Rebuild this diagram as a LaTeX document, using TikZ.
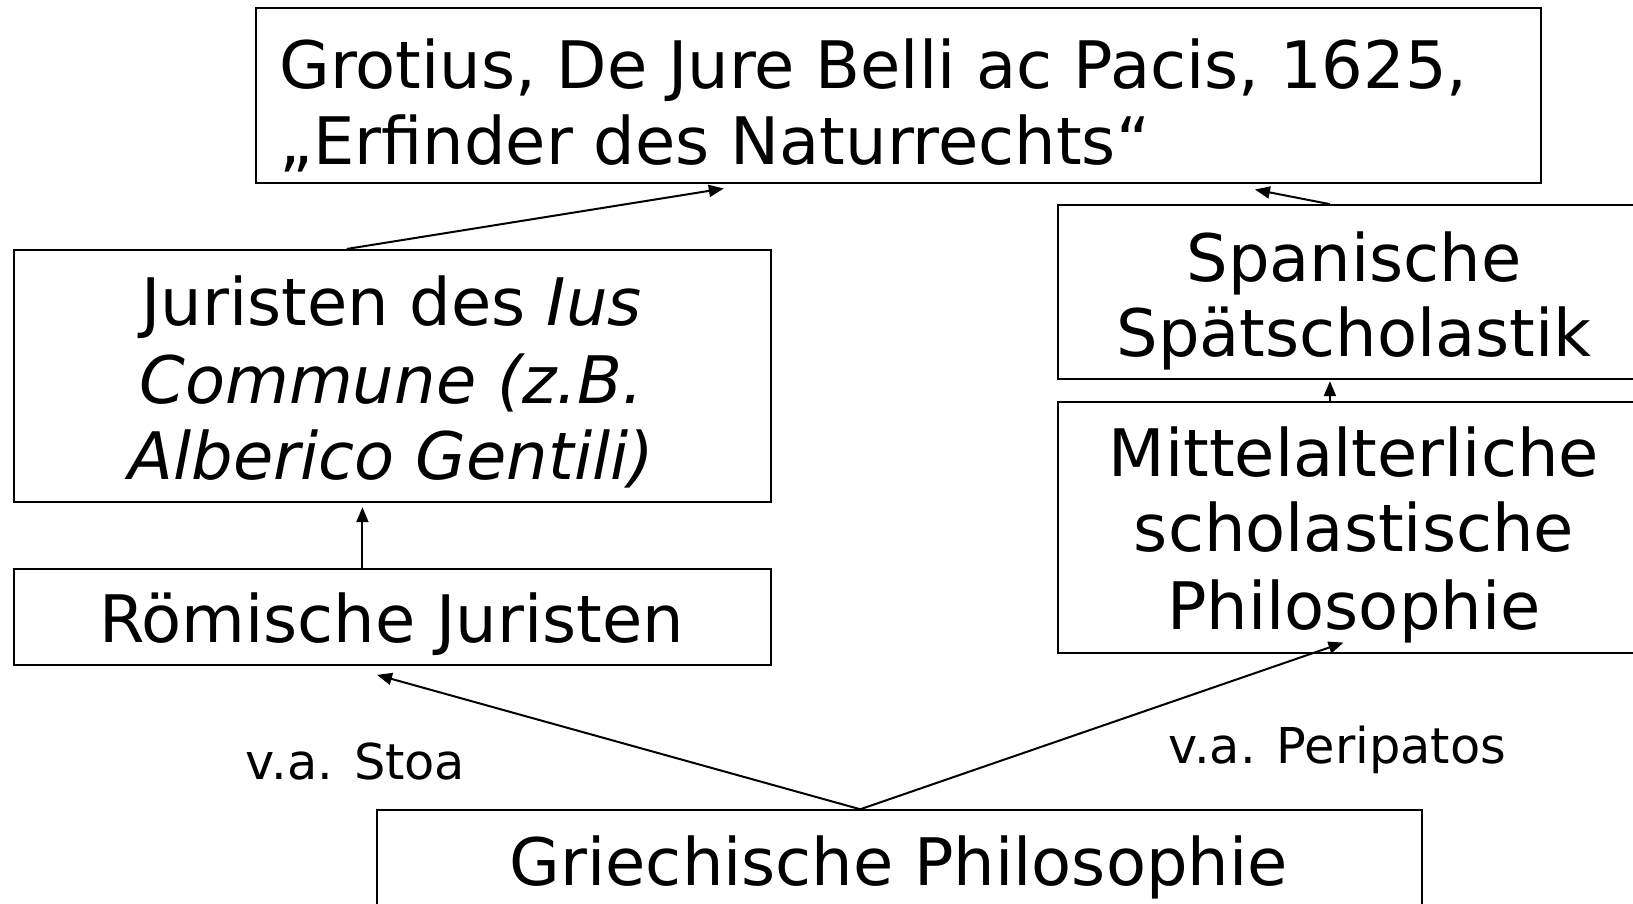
\documentclass[tikz,border=0pt]{standalone}
\usepackage{fontspec}
\setmainfont{DejaVu Sans}
\usetikzlibrary{arrows.meta,calc,fit}
\begin{document}
\begin{tikzpicture}[x=1.0415pt,y=-1.0415pt,
  box/.style={draw, line width=2pt, rectangle, inner sep=0pt},
  big/.style={font=\fontsize{65.5}{77}\selectfont, inner sep=0pt, anchor=base},
  small/.style={font=\fontsize{49.4}{58}\selectfont, inner sep=0pt, anchor=base west},
  arr/.style={line width=2pt, -{Triangle[length=15pt,width=12pt]}}]
\useasboundingbox (0,0) rectangle (1568,868);
% boxes
\node[box, fit={(246,8) (1480,176)}] (G) {};
\node[box, fit={(13,240) (740,482)}] (J) {};
\node[box, fit={(13,546) (740,639)}] (R) {};
\node[box, fit={(1016,197) (1650,364)}] (S) {};
\node[box, fit={(1016,386) (1650,627)}] (M) {};
\node[box, fit={(362,778) (1365,920)}] (P) {};
% texts
\node[big, anchor=base west] (g1) at (268,85) {Grotius, De Jure Belli ac Pacis, 1625,};
\node[big, anchor=base west] (g2) at (268,158) {„Erfinder des Naturrechts“};
\node[big] (j1) at (376,313) {Juristen des \textit{Ius}};
\node[big] (j2) at (376,387) {\textit{Commune (z.B.}};
\node[big] (j3) at (376,460) {\textit{Alberico Gentili)}};
\node[big] (r1) at (376,617) {Römische Juristen};
\node[big] (s1) at (1300,270) {Spanische};
\node[big] (s2) at (1300,342) {Spätscholastik};
\node[big] (m1) at (1300,458) {Mittelalterliche};
\node[big] (m2) at (1300,530) {scholastische};
\node[big] (m3) at (1300,604) {Philosophie};
\node[big] (p1) at (863,850) {Griechische Philosophie};
\node[small] (l1) at (236,748) {v.a. Stoa};
\node[small] (l2) at (1122,733) {v.a. Peripatos};
% arrow end points
\coordinate (e1) at (695,181);
\coordinate (e2) at (1205,182);
\coordinate (e3) at (348,487);
\coordinate (e4) at (1277,366);
\coordinate (e5) at (362,648);
\coordinate (e6) at (1290,617);
% connectors
\draw[arr] (J.north west -| 333,0) -- (e1);
\draw[arr] (S.north west -| 1277,0) -- (e2);
\draw[arr] (R.north west -| 348,0) -- (e3);
\draw[arr] (M.north west -| 1277,0) -- (e4);
\draw[arr] (P.north west -| 826,0) -- (e5);
\draw[arr] (P.north west -| 826,0) -- (e6);
\end{tikzpicture}
\end{document}
